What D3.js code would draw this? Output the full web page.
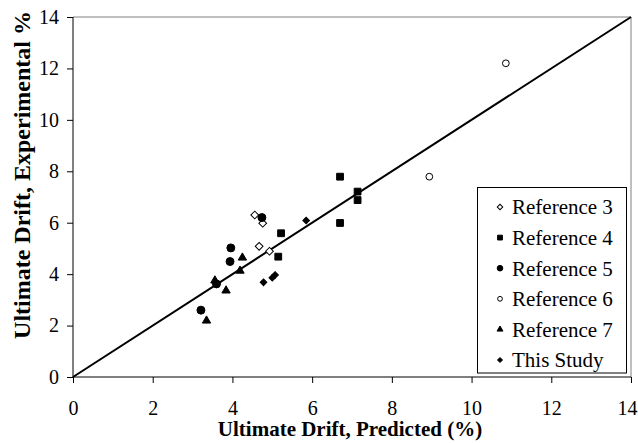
<!DOCTYPE html>
<html><head><meta charset="utf-8">
<script src="https://cdn.jsdelivr.net/npm/d3@7"></script>
<style>body{margin:0;background:#fff}svg{display:block}</style>
</head><body>
<svg id="c" width="638" height="443"></svg>
<script>
const xTicks = [0,2,4,6,8,10,12,14];
const yTicks = [0,2,4,6,8,10,12,14];
const seriesNames = ["Reference 3","Reference 4","Reference 5","Reference 6","Reference 7","This Study"];
const ref3 = [[4.56,6.30],[4.76,5.98],[4.67,5.08],[4.93,4.89]];
const ref4 = [[6.70,7.79],[7.14,7.21],[7.14,6.88],[6.70,5.99],[5.22,5.59],[5.15,4.68]];
const ref5 = [[4.74,6.20],[3.96,5.02],[3.94,4.49],[3.60,3.62],[3.21,2.60]];
const ref6 = [[10.86,12.2],[8.94,7.79]];
const ref7 = [[4.25,4.64],[4.19,4.13],[3.56,3.75],[3.84,3.36],[3.35,2.19]];
const thisStudy = [[5.85,6.09],[5.00,3.86],[5.07,3.97],[4.78,3.68]];
const lineData = [[0,0],[14,14]];

const svg = d3.select("#c");
const L=73, R=631, T=17, B=377;
const x = d3.scaleLinear().domain([0,14]).range([L,R]);
const y = d3.scaleLinear().domain([0,14]).range([B,T]);
const font = "Liberation Serif";

// plot border (top/right gray)
svg.append("path").attr("d",`M${L},${T}H${R}V${B}`).attr("fill","none").attr("stroke","#808080").attr("stroke-width",1);

const gx = svg.append("g").attr("transform",`translate(0,${B})`)
  .call(d3.axisBottom(x).tickValues(xTicks).tickSize(6).tickPadding(18).tickFormat(d3.format("d")));
const gy = svg.append("g").attr("transform",`translate(${L},0)`)
  .call(d3.axisLeft(y).tickValues(yTicks).tickSize(6).tickPadding(8).tickFormat(d3.format("d")));
[gx,gy].forEach(g=>{
  g.attr("font-family",font).attr("font-size",20);
  g.select(".domain").attr("stroke","#000").attr("d", g===gx?`M${L},0H${R}`:`M0,${B}V${T}`);
  g.selectAll(".tick line").attr("stroke","#000");
  g.selectAll("text").attr("font-family",font).attr("font-size",20).attr("fill","#000");
});
// keep last x label inside the page
gx.selectAll(".tick text").filter(d=>d===14).attr("dx",-4);

// 1:1 line
svg.append("path").datum(lineData)
  .attr("d", d3.line().x(d=>x(d[0])).y(d=>y(d[1])))
  .attr("stroke","#000").attr("stroke-width",2).attr("fill","none");

const styles = [
  {data:ref3, type:d3.symbolSquare, size:30, rot:45, fill:"#fff"},
  {data:ref4, type:d3.symbolSquare, size:46, rot:0, fill:"#000"},
  {data:ref5, type:d3.symbolCircle, size:50, rot:0, fill:"#000"},
  {data:ref6, type:d3.symbolCircle, size:36, rot:0, fill:"#fff"},
  {data:ref7, type:d3.symbolTriangle, size:30, rot:0, fill:"#000"},
  {data:thisStudy, type:d3.symbolSquare, size:22, rot:45, fill:"#000"}
];
styles.forEach(s=>{
  svg.append("g").selectAll("path").data(s.data).join("path")
    .attr("d", d3.symbol().type(s.type).size(s.size))
    .attr("transform", d=>`translate(${x(d[0])},${y(d[1])}) rotate(${s.rot})`)
    .attr("fill", s.fill).attr("stroke","#000").attr("stroke-width",1);
});

// legend
const lg = svg.append("g");
lg.append("rect").attr("x",477.5).attr("y",187.5).attr("width",149).attr("height",185.5)
  .attr("fill","#fff").attr("stroke","#000").attr("stroke-width",1);
const rowY = d3.scalePoint().domain(seriesNames).range([207,360]);
seriesNames.forEach((n,i)=>{
  const s = styles[i];
  lg.append("path").attr("d", d3.symbol().type(s.type).size(s.size*0.5))
    .attr("transform",`translate(500,${rowY(n)}) rotate(${s.rot})`)
    .attr("fill",s.fill).attr("stroke","#000").attr("stroke-width",1);
  lg.append("text").attr("x",512).attr("y",rowY(n)).attr("dy","0.35em")
    .attr("font-family",font).attr("font-size",21).text(n);
});

svg.append("text").attr("x",350).attr("y",436).attr("text-anchor","middle")
  .attr("font-family",font).attr("font-weight","bold").attr("font-size",21)
  .text("Ultimate Drift, Predicted (%)");
svg.append("text").attr("transform","translate(30,175) rotate(-90)").attr("text-anchor","middle")
  .attr("font-family",font).attr("font-weight","bold").attr("font-size",24)
  .text("Ultimate Drift, Experimental %");
</script>
</body></html>
